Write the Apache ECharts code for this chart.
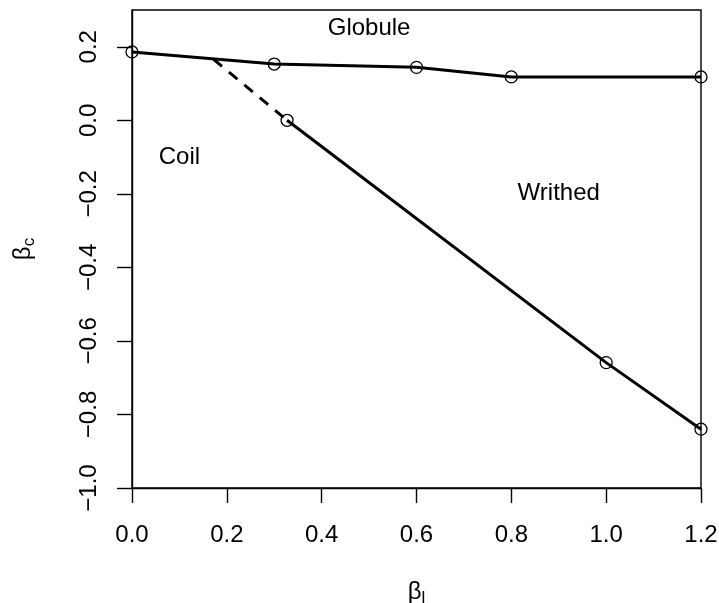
<!DOCTYPE html>
<html>
<head>
<meta charset="utf-8">
<script src="https://cdn.jsdelivr.net/npm/echarts@6/dist/echarts.min.js"></script>
<style>
html,body{margin:0;padding:0;background:#fff;}
#chart{width:719px;height:603px;}
</style>
</head>
<body>
<div id="chart"></div>
<script>
// Data
const globuleX = [0, 0.3, 0.6, 0.8, 1.2];
const globuleY = [0.186, 0.153, 0.144, 0.118, 0.118];
const writhedX = [0.327, 1.0, 1.2];
const writhedY = [0.0, -0.659, -0.84];
const dashX = [0.172, 0.327];
const dashY = [0.166, 0.0];
const regionNames = ['Globule', 'Coil', 'Writhed'];
const regionX = [0.5, 0.1, 0.9];
const regionY = [0.25, -0.1, -0.2];
const xTicks = [0.0, 0.2, 0.4, 0.6, 0.8, 1.0, 1.2];
const yTicks = [-1.0, -0.8, -0.6, -0.4, -0.2, 0.0, 0.2];

const FONT = '"Liberation Sans", Arial, Helvetica, sans-serif';
const zip = (xs, ys) => xs.map((x, i) => [x, ys[i]]);

const chart = echarts.init(document.getElementById('chart'), null, {renderer: 'canvas'});
const nameRich = {
  b: {fontSize: 24, fontFamily: FONT, color: '#000'},
  s: {fontSize: 17, fontFamily: FONT, color: '#000', verticalAlign: 'bottom', padding: [12, 0, 0, 0]}
};
chart.setOption({
  animation: false,
  backgroundColor: '#fff',
  grid: {left: 132, right: 18, top: 10, bottom: 115, containLabel: false, outerBoundsMode: 'none',
    show: true, borderColor: '#000', borderWidth: 1.4, backgroundColor: 'transparent'},
  xAxis: {
    type: 'value', min: 0, max: 1.2, interval: 0.2,
    splitLine: {show: false},
    axisLine: {show: true, onZero: false, lineStyle: {color: '#000', width: 1.4}},
    axisTick: {show: true, length: 15, customValues: xTicks, lineStyle: {color: '#000', width: 1.4}},
    axisLabel: {customValues: xTicks, margin: 35, fontSize: 24, fontFamily: FONT, color: '#000', formatter: v => v.toFixed(1)},
    name: '{b|β}{s|l}', nameLocation: 'middle', nameGap: 90,
    nameTextStyle: {rich: nameRich}
  },
  yAxis: {
    type: 'value', min: -1.0, max: 0.3,
    splitLine: {show: false},
    axisLine: {show: true, onZero: false, lineStyle: {color: '#000', width: 1.4}},
    axisTick: {show: true, length: 15, customValues: yTicks, lineStyle: {color: '#000', width: 1.4}},
    axisLabel: {customValues: yTicks, rotate: 90, margin: 31, fontSize: 24, fontFamily: FONT, color: '#000',
      formatter: v => (v < 0 ? '\u2212' + Math.abs(v).toFixed(1) : v.toFixed(1))},
    name: '{b|β}{s|c}', nameLocation: 'middle', nameGap: 94,
    nameTextStyle: {rich: nameRich}
  },
  series: [
    {
      type: 'line', data: zip(globuleX, globuleY),
      symbol: 'circle', symbolSize: 12,
      lineStyle: {color: '#000', width: 3},
      itemStyle: {color: 'rgba(0,0,0,0)', borderColor: '#000', borderWidth: 1.3},
      z: 3
    },
    {
      type: 'line', data: zip(writhedX, writhedY),
      symbol: 'circle', symbolSize: 12,
      lineStyle: {color: '#000', width: 3},
      itemStyle: {color: 'rgba(0,0,0,0)', borderColor: '#000', borderWidth: 1.3},
      z: 3
    },
    {
      type: 'line', data: zip(dashX, dashY),
      symbol: 'none',
      lineStyle: {color: '#000', width: 3, type: [11, 9]},
      z: 2
    },
    {
      type: 'scatter', symbolSize: 0,
      itemStyle: {color: 'rgba(0,0,0,0)'},
      data: regionNames.map((n, i) => ({name: n, value: [regionX[i], regionY[i]]})),
      label: {show: true, position: 'inside', formatter: p => p.name, fontSize: 24, fontFamily: FONT,
        color: '#000', textBorderWidth: 0, opacity: 1},
      emphasis: {disabled: true},
      z: 4
    }
  ]
});
</script>
</body>
</html>
